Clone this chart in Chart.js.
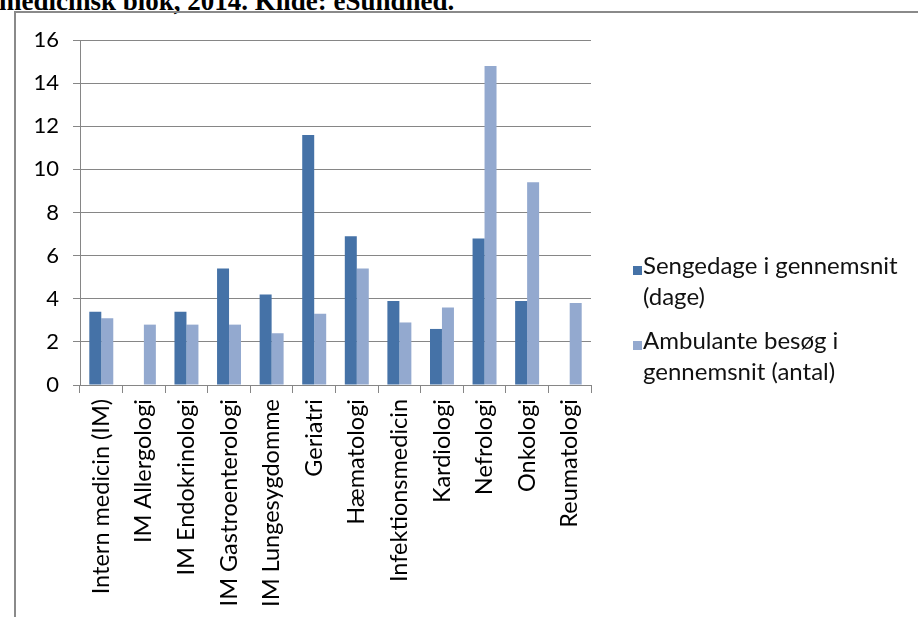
<!DOCTYPE html>
<html>
<head>
<meta charset="utf-8">
<script src="https://cdn.jsdelivr.net/npm/chart.js@4/dist/chart.umd.min.js"></script>
<style>
  html, body { margin: 0; padding: 0; background: #fff; }
  #wrap { position: relative; width: 918px; height: 617px; overflow: hidden; }
  #caption {
    position: absolute; left: -1px; top: -12px; white-space: nowrap;
    font: bold 27px/27px "Liberation Serif", "Times New Roman", serif; color: #000;
  }
  #frame {
    position: absolute; left: 14px; top: 11px; width: 920px; height: 620px;
    border-left: 2px solid #8a8a8a; border-top: 2px solid #8a8a8a;
  }
  #chart { position: absolute; left: 0; top: 0; }
  #legend {
    position: absolute; left: 633px; top: 249px;
    font-family: Lato, "Open Sans", sans-serif; font-size: 24px; line-height: 31px; color: #111;
  }
  .item { position: relative; padding-left: 10px; margin-bottom: 13px; white-space: nowrap; }
  .swatch { position: absolute; left: 0; top: 17px; width: 9px; height: 9px; }
</style>
</head>
<body>
<div id="wrap">
  <div id="caption">medicinsk blok, 2014. Kilde: eSundhed.</div>
  <div id="frame"></div>
  <canvas id="chart" width="918" height="617"></canvas>
  <div id="legend"></div>
</div>
<script>
// Specialties in the medical block
const categories = [
  'Intern medicin (IM)', 'IM Allergologi', 'IM Endokrinologi', 'IM Gastroenterologi',
  'IM Lungesygdomme', 'Geriatri', 'Hæmatologi', 'Infektionsmedicin',
  'Kardiologi', 'Nefrologi', 'Onkologi', 'Reumatologi'
];
// Average bed days per admission (days)
const sengedage = [3.4, null, 3.4, 5.4, 4.2, 11.6, 6.9, 3.9, 2.6, 6.8, 3.9, null];
// Average outpatient visits (count)
const ambulante = [3.1, 2.8, 2.8, 2.8, 2.4, 3.3, 5.4, 2.9, 3.6, 14.8, 9.4, 3.8];
// Legend text, one entry per series, split into its two lines
const seriesLines = [
  ['Sengedage i gennemsnit', '(dage)'],
  ['Ambulante besøg i', 'gennemsnit (antal)']
];
const yTicks = [0, 2, 4, 6, 8, 10, 12, 14, 16];

const darkBlue = '#4572A7';
const lightBlue = '#93A9CF';
const gridGrey = '#868686';
const fontFamily = 'Lato, "Open Sans", sans-serif';

const chart = new Chart(document.getElementById('chart'), {
  type: 'bar',
  data: {
    labels: categories,
    datasets: [
      { label: seriesLines[0].join(' '), data: sengedage, backgroundColor: darkBlue },
      { label: seriesLines[1].join(' '), data: ambulante, backgroundColor: lightBlue }
    ]
  },
  options: {
    responsive: false,
    devicePixelRatio: 1,
    animation: false,
    layout: { padding: { left: 0, top: 40, right: 327, bottom: 0 } },
    datasets: { bar: { categoryPercentage: 0.563, barPercentage: 1.0 } },
    plugins: { legend: { display: false }, tooltip: { enabled: false } },
    scales: {
      x: {
        grid: { offset: true, drawOnChartArea: false, drawTicks: true, tickLength: 8, color: gridGrey },
        border: { display: true, color: gridGrey },
        ticks: {
          autoSkip: false, minRotation: 90, maxRotation: 90, padding: 6,
          color: '#000', font: { family: fontFamily, size: 23.5 }
        },
        afterFit: s => { s.height = 617 - 385; }
      },
      y: {
        min: 0, max: 16,
        afterBuildTicks: s => { s.ticks = yTicks.map(v => ({ value: v })); },
        grid: { color: gridGrey, drawTicks: true, tickLength: 7 },
        border: { display: true, color: gridGrey },
        ticks: { padding: 14, color: '#000', font: { family: fontFamily, size: 22 } },
        afterFit: s => { s.width = 80; }
      }
    }
  }
});

// Legend built from the chart's own datasets
const legend = document.getElementById('legend');
chart.data.datasets.forEach((ds, i) => {
  const item = document.createElement('div');
  item.className = 'item';
  const sw = document.createElement('span');
  sw.className = 'swatch';
  sw.style.background = ds.backgroundColor;
  item.appendChild(sw);
  seriesLines[i].forEach(line => {
    const l = document.createElement('div');
    l.textContent = line;
    item.appendChild(l);
  });
  legend.appendChild(item);
});
</script>
</body>
</html>
